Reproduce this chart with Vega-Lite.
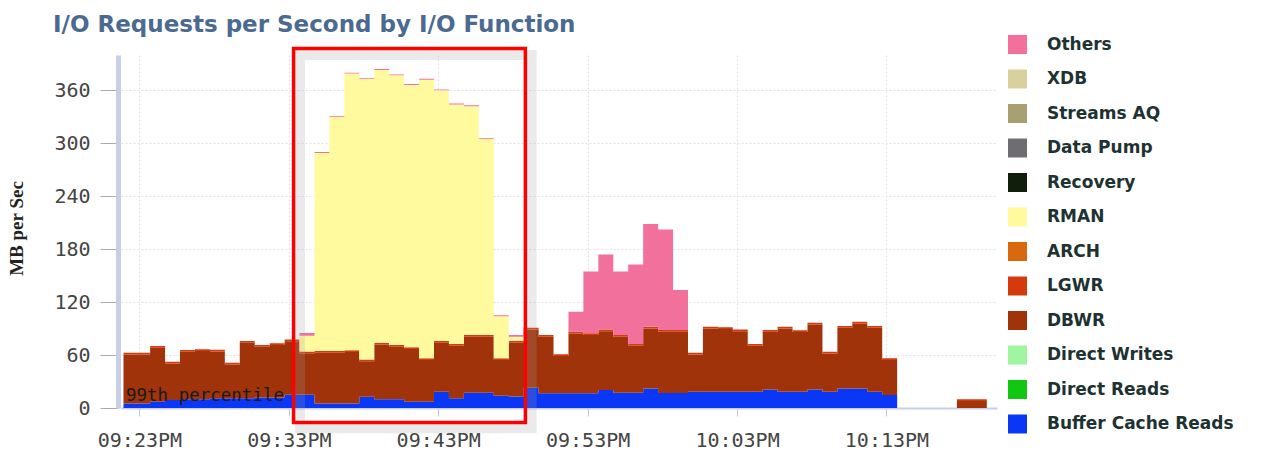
{
  "$schema": "https://vega.github.io/schema/vega-lite/v6.json",
  "width": 876,
  "height": 353,
  "autosize": {"type": "none"},
  "padding": {"left": 121, "top": 55, "right": 265, "bottom": 44},
  "background": "white",
  "title": {
    "text": "I/O Requests per Second by I/O Function",
    "anchor": "start",
    "frame": "group",
    "dx": -68,
    "dy": 44,
    "font": "DejaVu Sans",
    "fontSize": 23,
    "fontWeight": "bold",
    "color": "#4b6a91",
    "baseline": "alphabetic",
    "offset": 24
  },
  "datasets": {
    "io": [
      {"t": "2024-01-01T21:21:56", "Buffer Cache Reads": 5, "DBWR": 55.7, "LGWR": 2, "RMAN": 0, "Others": 0},
      {"t": "2024-01-01T21:23:43", "Buffer Cache Reads": 7, "DBWR": 61.3, "LGWR": 2, "RMAN": 0, "Others": 0},
      {"t": "2024-01-01T21:24:43", "Buffer Cache Reads": 9, "DBWR": 41.5, "LGWR": 2, "RMAN": 0, "Others": 0},
      {"t": "2024-01-01T21:25:43", "Buffer Cache Reads": 10, "DBWR": 53.7, "LGWR": 2, "RMAN": 0, "Others": 0},
      {"t": "2024-01-01T21:26:43", "Buffer Cache Reads": 10, "DBWR": 54.5, "LGWR": 2, "RMAN": 0, "Others": 0},
      {"t": "2024-01-01T21:27:43", "Buffer Cache Reads": 11, "DBWR": 53, "LGWR": 2, "RMAN": 0, "Others": 0},
      {"t": "2024-01-01T21:28:43", "Buffer Cache Reads": 11, "DBWR": 38.3, "LGWR": 2, "RMAN": 0, "Others": 0},
      {"t": "2024-01-01T21:29:43", "Buffer Cache Reads": 11, "DBWR": 62.9, "LGWR": 2, "RMAN": 0, "Others": 0},
      {"t": "2024-01-01T21:30:43", "Buffer Cache Reads": 12, "DBWR": 57.4, "LGWR": 2, "RMAN": 0, "Others": 0},
      {"t": "2024-01-01T21:31:43", "Buffer Cache Reads": 12, "DBWR": 59.3, "LGWR": 2, "RMAN": 0, "Others": 0},
      {"t": "2024-01-01T21:32:43", "Buffer Cache Reads": 15, "DBWR": 60.6, "LGWR": 2, "RMAN": 0, "Others": 0},
      {"t": "2024-01-01T21:33:43", "Buffer Cache Reads": 15, "DBWR": 47, "LGWR": 2, "RMAN": 18, "Others": 3},
      {"t": "2024-01-01T21:34:43", "Buffer Cache Reads": 5, "DBWR": 57.6, "LGWR": 2, "RMAN": 224.4, "Others": 1},
      {"t": "2024-01-01T21:35:43", "Buffer Cache Reads": 5, "DBWR": 57.6, "LGWR": 2, "RMAN": 265.4, "Others": 1},
      {"t": "2024-01-01T21:36:43", "Buffer Cache Reads": 5, "DBWR": 58.5, "LGWR": 2, "RMAN": 313.5, "Others": 1},
      {"t": "2024-01-01T21:37:43", "Buffer Cache Reads": 12.8, "DBWR": 40.2, "LGWR": 2, "RMAN": 318, "Others": 1},
      {"t": "2024-01-01T21:38:43", "Buffer Cache Reads": 10, "DBWR": 62, "LGWR": 2, "RMAN": 309, "Others": 1},
      {"t": "2024-01-01T21:39:43", "Buffer Cache Reads": 10, "DBWR": 59.4, "LGWR": 2, "RMAN": 305.6, "Others": 1},
      {"t": "2024-01-01T21:40:43", "Buffer Cache Reads": 7, "DBWR": 59.8, "LGWR": 2, "RMAN": 297.2, "Others": 1},
      {"t": "2024-01-01T21:41:43", "Buffer Cache Reads": 7, "DBWR": 47.3, "LGWR": 2, "RMAN": 315.7, "Others": 1},
      {"t": "2024-01-01T21:42:43", "Buffer Cache Reads": 18.5, "DBWR": 55.5, "LGWR": 2, "RMAN": 284, "Others": 1},
      {"t": "2024-01-01T21:43:43", "Buffer Cache Reads": 11, "DBWR": 59.5, "LGWR": 2, "RMAN": 271.5, "Others": 1},
      {"t": "2024-01-01T21:44:43", "Buffer Cache Reads": 17.4, "DBWR": 63.3, "LGWR": 2, "RMAN": 259.3, "Others": 1},
      {"t": "2024-01-01T21:45:43", "Buffer Cache Reads": 17.4, "DBWR": 63.3, "LGWR": 2, "RMAN": 222.3, "Others": 1},
      {"t": "2024-01-01T21:46:43", "Buffer Cache Reads": 14, "DBWR": 40.3, "LGWR": 2, "RMAN": 47.7, "Others": 1},
      {"t": "2024-01-01T21:47:43", "Buffer Cache Reads": 13, "DBWR": 61.3, "LGWR": 2, "RMAN": 4.4, "Others": 2},
      {"t": "2024-01-01T21:48:43", "Buffer Cache Reads": 23, "DBWR": 66, "LGWR": 2, "RMAN": 0, "Others": 0},
      {"t": "2024-01-01T21:49:43", "Buffer Cache Reads": 16.6, "DBWR": 64.1, "LGWR": 2, "RMAN": 0, "Others": 0},
      {"t": "2024-01-01T21:50:43", "Buffer Cache Reads": 16.6, "DBWR": 42.4, "LGWR": 2, "RMAN": 0, "Others": 0},
      {"t": "2024-01-01T21:51:43", "Buffer Cache Reads": 16.6, "DBWR": 67.9, "LGWR": 2, "RMAN": 0, "Others": 22.7},
      {"t": "2024-01-01T21:52:43", "Buffer Cache Reads": 16.6, "DBWR": 66, "LGWR": 2, "RMAN": 0, "Others": 70},
      {"t": "2024-01-01T21:53:43", "Buffer Cache Reads": 20.4, "DBWR": 66.6, "LGWR": 2, "RMAN": 0, "Others": 85},
      {"t": "2024-01-01T21:54:43", "Buffer Cache Reads": 17.4, "DBWR": 63.3, "LGWR": 2, "RMAN": 0, "Others": 72},
      {"t": "2024-01-01T21:55:43", "Buffer Cache Reads": 17.4, "DBWR": 53.1, "LGWR": 2, "RMAN": 0, "Others": 90},
      {"t": "2024-01-01T21:56:43", "Buffer Cache Reads": 22, "DBWR": 68, "LGWR": 2, "RMAN": 0, "Others": 116.5},
      {"t": "2024-01-01T21:57:43", "Buffer Cache Reads": 17, "DBWR": 69.4, "LGWR": 2, "RMAN": 0, "Others": 114},
      {"t": "2024-01-01T21:58:43", "Buffer Cache Reads": 17, "DBWR": 69.4, "LGWR": 2, "RMAN": 0, "Others": 45.3},
      {"t": "2024-01-01T21:59:43", "Buffer Cache Reads": 18.5, "DBWR": 42.2, "LGWR": 2, "RMAN": 0, "Others": 0},
      {"t": "2024-01-01T22:00:43", "Buffer Cache Reads": 18.5, "DBWR": 71.5, "LGWR": 2, "RMAN": 0, "Others": 0},
      {"t": "2024-01-01T22:01:43", "Buffer Cache Reads": 18.5, "DBWR": 71, "LGWR": 2, "RMAN": 0, "Others": 0},
      {"t": "2024-01-01T22:02:43", "Buffer Cache Reads": 18.5, "DBWR": 68.5, "LGWR": 2, "RMAN": 0, "Others": 0},
      {"t": "2024-01-01T22:03:43", "Buffer Cache Reads": 18.5, "DBWR": 52, "LGWR": 2, "RMAN": 0, "Others": 0},
      {"t": "2024-01-01T22:04:43", "Buffer Cache Reads": 21, "DBWR": 65.4, "LGWR": 2, "RMAN": 0, "Others": 0},
      {"t": "2024-01-01T22:05:43", "Buffer Cache Reads": 18.5, "DBWR": 71.5, "LGWR": 2, "RMAN": 0, "Others": 0},
      {"t": "2024-01-01T22:06:43", "Buffer Cache Reads": 18.5, "DBWR": 67.5, "LGWR": 2, "RMAN": 0, "Others": 0},
      {"t": "2024-01-01T22:07:43", "Buffer Cache Reads": 21, "DBWR": 73.7, "LGWR": 2, "RMAN": 0, "Others": 0},
      {"t": "2024-01-01T22:08:43", "Buffer Cache Reads": 18.5, "DBWR": 43.3, "LGWR": 2, "RMAN": 0, "Others": 0},
      {"t": "2024-01-01T22:09:43", "Buffer Cache Reads": 22, "DBWR": 68.9, "LGWR": 2, "RMAN": 0, "Others": 0},
      {"t": "2024-01-01T22:10:43", "Buffer Cache Reads": 22, "DBWR": 73.8, "LGWR": 2, "RMAN": 0, "Others": 0},
      {"t": "2024-01-01T22:11:43", "Buffer Cache Reads": 18.5, "DBWR": 72.4, "LGWR": 2, "RMAN": 0, "Others": 0},
      {"t": "2024-01-01T22:12:43", "Buffer Cache Reads": 14.7, "DBWR": 39.6, "LGWR": 2, "RMAN": 0, "Others": 0},
      {"t": "2024-01-01T22:13:43", "Buffer Cache Reads": 0, "DBWR": 0, "LGWR": 0, "RMAN": 0, "Others": 0},
      {"t": "2024-01-01T22:17:43", "Buffer Cache Reads": 0, "DBWR": 8, "LGWR": 2, "RMAN": 0, "Others": 0},
      {"t": "2024-01-01T22:19:43", "Buffer Cache Reads": 0, "DBWR": 0, "LGWR": 0, "RMAN": 0, "Others": 0},
      {"t": "2024-01-01T22:20:24", "Buffer Cache Reads": 0, "DBWR": 0, "LGWR": 0, "RMAN": 0, "Others": 0}
    ],
    "funcs": [
      {"name": "Buffer Cache Reads", "rank": 1},
      {"name": "Direct Reads", "rank": 2},
      {"name": "Direct Writes", "rank": 3},
      {"name": "DBWR", "rank": 4},
      {"name": "LGWR", "rank": 5},
      {"name": "ARCH", "rank": 6},
      {"name": "RMAN", "rank": 7},
      {"name": "Recovery", "rank": 8},
      {"name": "Data Pump", "rank": 9},
      {"name": "Streams AQ", "rank": 10},
      {"name": "XDB", "rank": 11},
      {"name": "Others", "rank": 12}
    ],
    "notes": [
      {"t": "2024-01-01T21:22:06", "mb": 7.9, "label": "99th percentile"}
    ],
    "highlight": [
      {"start": "2024-01-01T21:33:19", "end": "2024-01-01T21:48:50", "low": -16.4, "high": 407.4, "kind": "box"}
    ],
    "shadow": [
      {"start": "2024-01-01T21:33:45", "end": "2024-01-01T21:49:15", "low": -23, "high": 400, "kind": "shadow"}
    ]
  },
  "layer": [
    {
      "data": {"name": "io"},
      "transform": [
        {"fold": ["Buffer Cache Reads", "DBWR", "LGWR", "RMAN", "Others"], "as": ["fn", "mb"]},
        {"lookup": "fn", "from": {"data": {"name": "funcs"}, "key": "name", "fields": ["rank"]}}
      ],
      "mark": {"type": "area", "interpolate": "step-after", "opacity": 1},
      "encoding": {
        "x": {
          "field": "t",
          "type": "temporal",
          "scale": {
            "domain": [
              {"year": 2024, "month": 1, "date": 1, "hours": 21, "minutes": 21, "seconds": 46},
              {"year": 2024, "month": 1, "date": 1, "hours": 22, "minutes": 20, "seconds": 24}
            ]
          },
          "axis": {
            "title": null,
            "values": [
              {"year": 2024, "month": 1, "date": 1, "hours": 21, "minutes": 23},
              {"year": 2024, "month": 1, "date": 1, "hours": 21, "minutes": 33},
              {"year": 2024, "month": 1, "date": 1, "hours": 21, "minutes": 43},
              {"year": 2024, "month": 1, "date": 1, "hours": 21, "minutes": 53},
              {"year": 2024, "month": 1, "date": 1, "hours": 22, "minutes": 3},
              {"year": 2024, "month": 1, "date": 1, "hours": 22, "minutes": 13}
            ],
            "format": "%I:%M%p",
            "labelFont": "DejaVu Sans Mono",
            "labelFontSize": 20,
            "labelColor": "#444444",
            "labelPadding": 14,
            "tickSize": 8,
            "tickColor": "#c0c4e0",
            "domainColor": "#c8cde8",
            "domainWidth": 2,
            "grid": true,
            "gridColor": "#eadcee",
            "gridDash": [2, 2],
            "labelFlush": false,
            "labelOverlap": false
          }
        },
        "y": {
          "field": "mb",
          "type": "quantitative",
          "stack": "zero",
          "scale": {"domain": [0, 400], "nice": false, "zero": true},
          "axis": {
            "title": "MB per Sec",
            "titleFont": "Liberation Serif",
            "titleFontSize": 19,
            "titleFontWeight": "bold",
            "titleColor": "#222222",
            "titleAngle": -90,
            "titleX": -102,
            "titleY": 173,
            "titleAlign": "center",
            "titleBaseline": "middle",
            "values": [0, 60, 120, 180, 240, 300, 360],
            "labelFont": "DejaVu Sans Mono",
            "labelFontSize": 20,
            "labelColor": "#444444",
            "labelPadding": 10,
            "tickSize": 18,
            "tickColor": "#aaaaaa",
            "offset": 3,
            "domainColor": "#c8cde8",
            "domainWidth": 5,
            "grid": true,
            "gridColor": "#eadcee",
            "gridDash": [2, 2]
          }
        },
        "color": {
          "field": "fn",
          "type": "nominal",
          "scale": {
            "domain": ["Others", "XDB", "Streams AQ", "Data Pump", "Recovery", "RMAN", "ARCH", "LGWR", "DBWR", "Direct Writes", "Direct Reads", "Buffer Cache Reads"],
            "range": ["#f2709c", "#d9d0a0", "#a89f72", "#6e6e72", "#0f1f0a", "#fffa9e", "#d9690f", "#d43a0c", "#a0330a", "#a0f5a0", "#10c810", "#0a36f5"]
          },
          "legend": {
            "title": null,
            "orient": "none",
            "legendX": 887,
            "legendY": -20,
            "padding": 0,
            "symbolType": "square",
            "symbolSize": 361,
            "symbolStrokeWidth": 0,
            "symbolOpacity": 1,
            "labelFont": "DejaVu Sans",
            "labelFontWeight": "bold",
            "labelFontSize": 17,
            "labelColor": "#1e3232",
            "labelOffset": 20,
            "rowPadding": 15.5,
            "labelLimit": 300
          }
        },
        "order": {"field": "rank", "type": "quantitative"}
      }
    },
    {
      "data": {"name": "notes"},
      "mark": {"type": "text", "align": "left", "baseline": "alphabetic", "font": "DejaVu Sans Mono", "fontSize": 17.5, "color": "#1a1a1a"},
      "encoding": {
        "x": {"field": "t", "type": "temporal"},
        "y": {"field": "mb", "type": "quantitative"},
        "text": {"field": "label"}
      }
    },
    {
      "data": {"name": "shadow"},
      "mark": {"type": "rect", "fill": null, "filled": false, "stroke": "#a0a0a0", "strokeOpacity": 0.22, "strokeWidth": 10, "clip": false},
      "encoding": {
        "x": {"field": "start", "type": "temporal"},
        "x2": {"field": "end"},
        "y": {"field": "high", "type": "quantitative"},
        "y2": {"field": "low"}
      }
    },
    {
      "data": {"name": "highlight"},
      "mark": {"type": "rect", "fill": null, "filled": false, "stroke": "#ff0000", "strokeWidth": 3.5, "clip": false},
      "encoding": {
        "x": {"field": "start", "type": "temporal"},
        "x2": {"field": "end"},
        "y": {"field": "high", "type": "quantitative"},
        "y2": {"field": "low"}
      }
    }
  ],
  "config": {"view": {"stroke": null}}
}
